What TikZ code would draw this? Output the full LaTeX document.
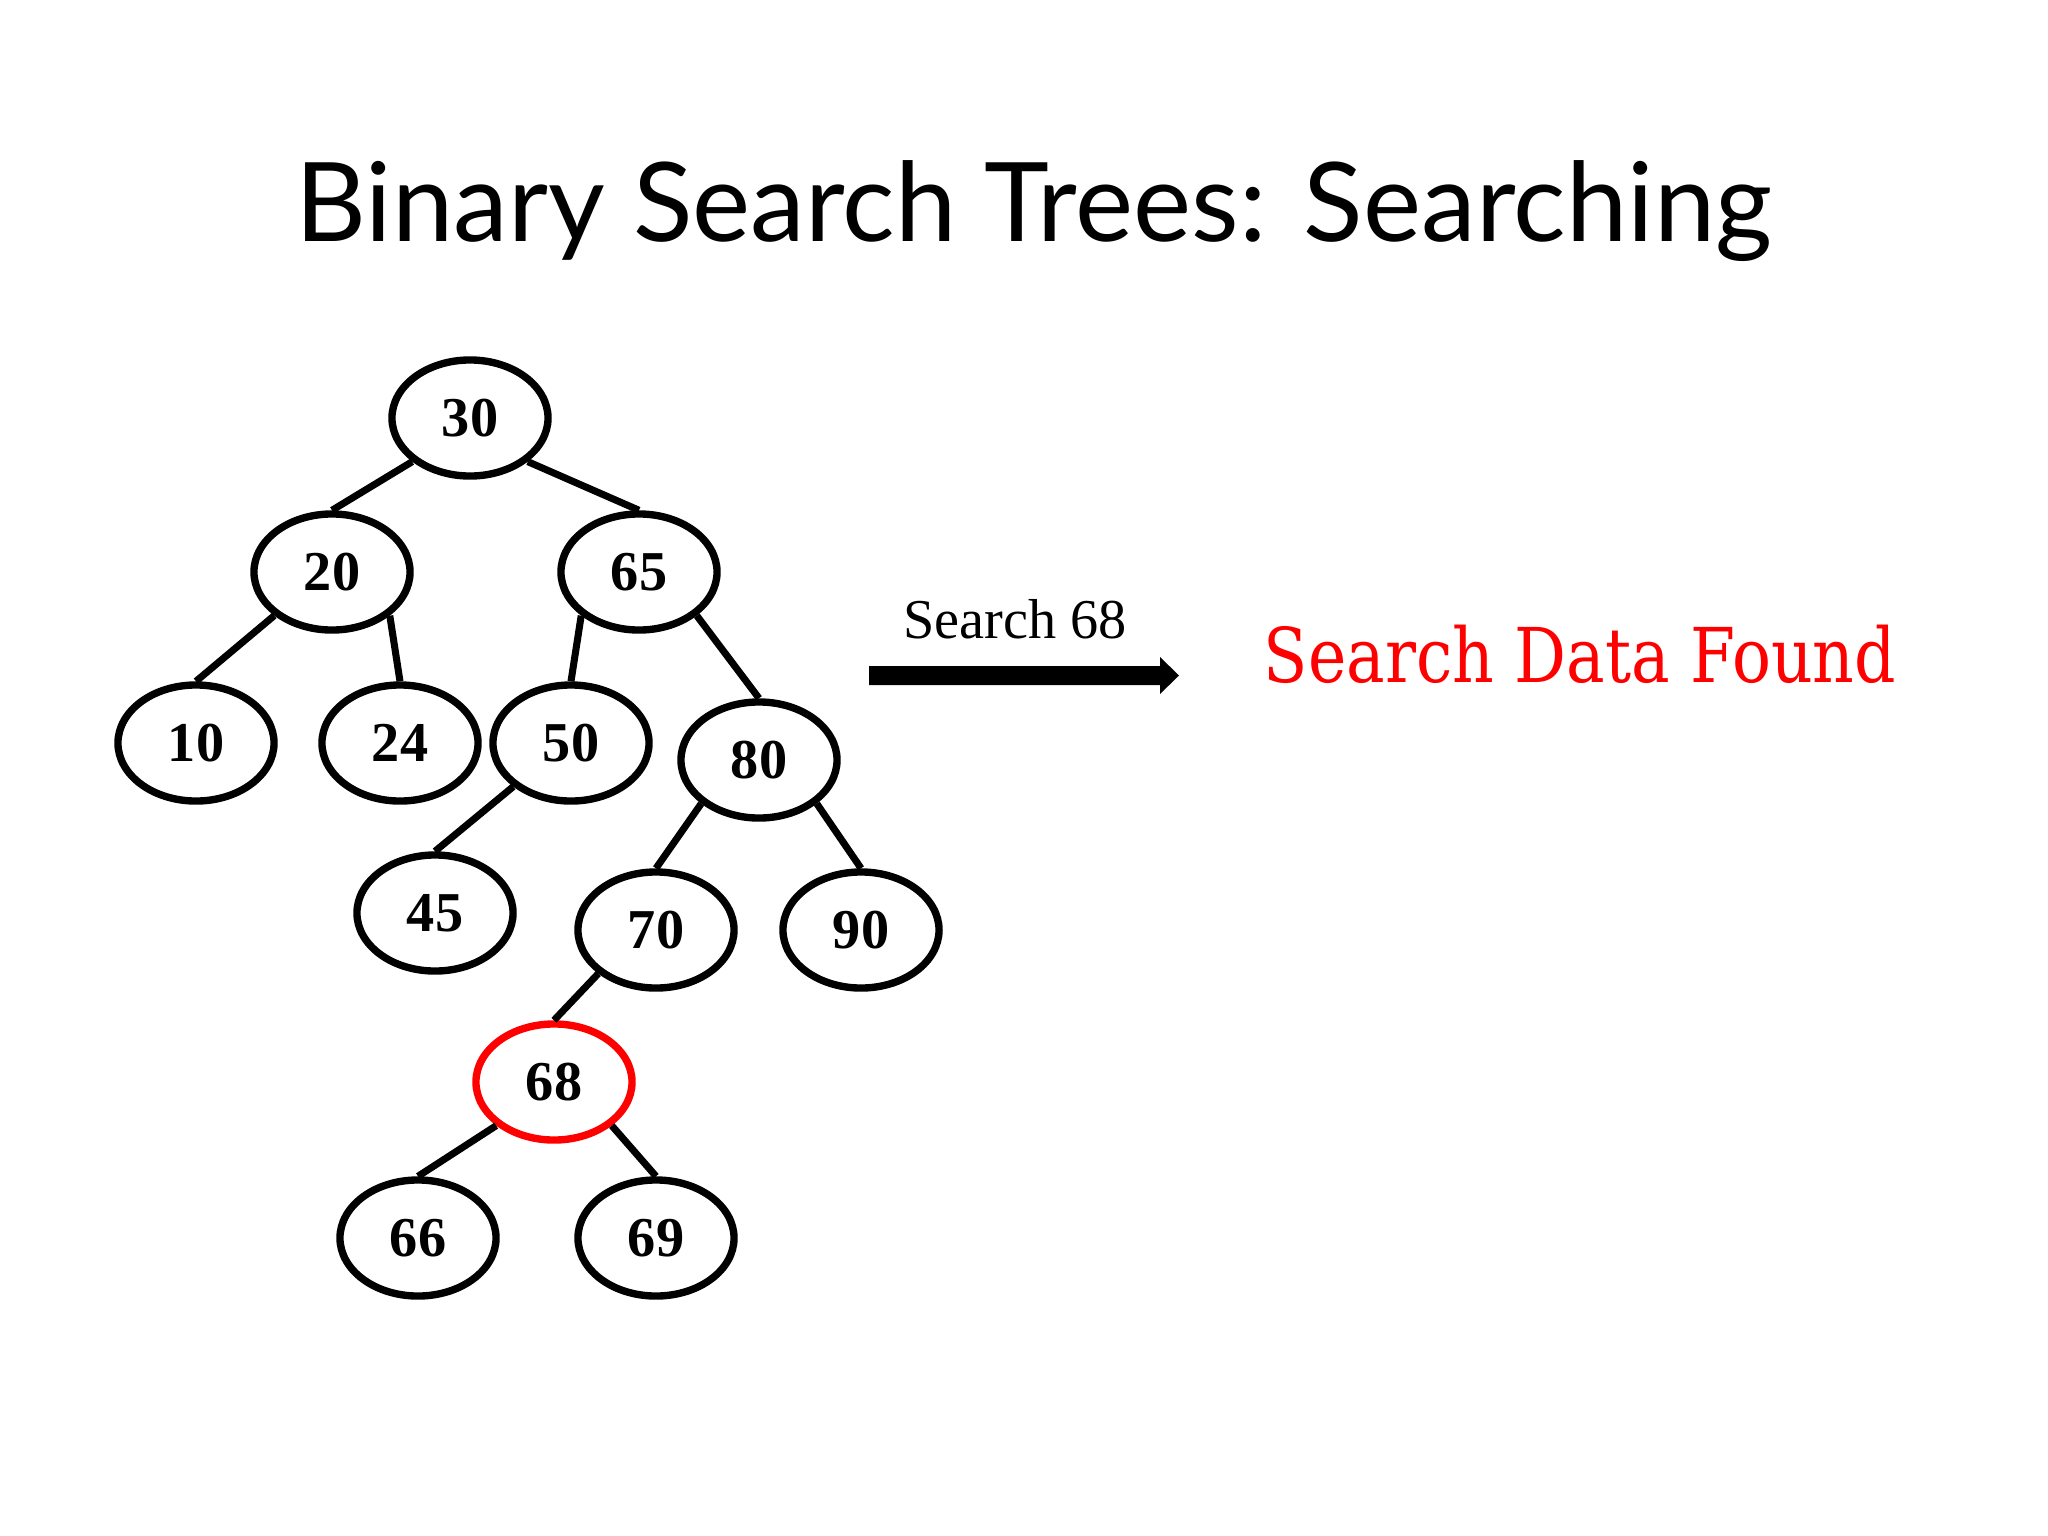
\documentclass[tikz,border=0pt]{standalone}
\usepackage{fontspec}
\setmainfont{Liberation Serif}
\newfontfamily\titlefont{Lato}
\newfontfamily\foundfont[FakeStretch=0.857]{DejaVu Serif}
\usetikzlibrary{shapes.geometric}
\begin{document}
\begin{tikzpicture}[x=0.01cm,y=-0.01cm,
  bnode/.style={ellipse, draw, line width=2.1pt, minimum width=1.56cm, minimum height=1.16cm,
    inner sep=0pt, fill=white, font=\fontsize{16}{19}\selectfont\bfseries},
  hit/.style={bnode, draw=red},
  link/.style={line width=2pt}]
\useasboundingbox (0,0) rectangle (2048,1536);
\fill[white] (0,0) rectangle (2048,1536);

\node[anchor=base, font=\titlefont\fontsize{31.25}{38}\selectfont] (title) at (1034,241) {Binary Search Trees: Searching};

\node[bnode] (n30) at (470,418) {30};
\node[bnode] (n20) at (332,572) {20};
\node[bnode] (n65) at (639,572) {65};
\node[bnode] (n10) at (196,743) {10};
\node[bnode] (n24) at (400,743) {24};
\node[bnode] (n50) at (571,743) {50};
\node[bnode] (n80) at (759,760) {80};
\node[bnode] (n45) at (435,913) {45};
\node[bnode] (n70) at (656,930) {70};
\node[bnode] (n90) at (861,930) {90};
\node[hit]   (n68) at (554,1082) {68};
\node[bnode] (n66) at (418,1238) {66};
\node[bnode] (n69) at (656,1238) {69};

\begin{scope}[on background layer/.try]
\draw[link] (n30.south west) -- (n20.north);
\draw[link] (n30.south east) -- (n65.north);
\draw[link] (n20.south west) -- (n10.north);
\draw[link] (n20.south east) -- (n24.north);
\draw[link] (n65.south west) -- (n50.north);
\draw[link] (n65.south east) -- (n80.north);
\draw[link] (n50.south west) -- (n45.north);
\draw[link] (n80.south west) -- (n70.north);
\draw[link] (n80.south east) -- (n90.north);
\draw[link] (n70.south west) -- (n68.north);
\draw[link] (n68.south west) -- (n66.north);
\draw[link] (n68.south east) -- (n69.north);
\end{scope}

\node[anchor=base, font=\fontsize{16}{19}\selectfont] (srch) at (1015,638) {Search 68};
\coordinate (arrS) at (869,675.5);
\coordinate (arrE) at (1179,675.5);
\fill (arrS) ++(0,-9.5) -- ++(291,0) -- ++(0,-9) -- (arrE) -- ++(-19,18.5) -- ++(0,-9) -- ++(-291,0) -- cycle;

\node[anchor=base, text=red, font=\foundfont\fontsize{21.5}{26}\selectfont] (found) at (1580,682) {Search Data Found};
\end{tikzpicture}
\end{document}
